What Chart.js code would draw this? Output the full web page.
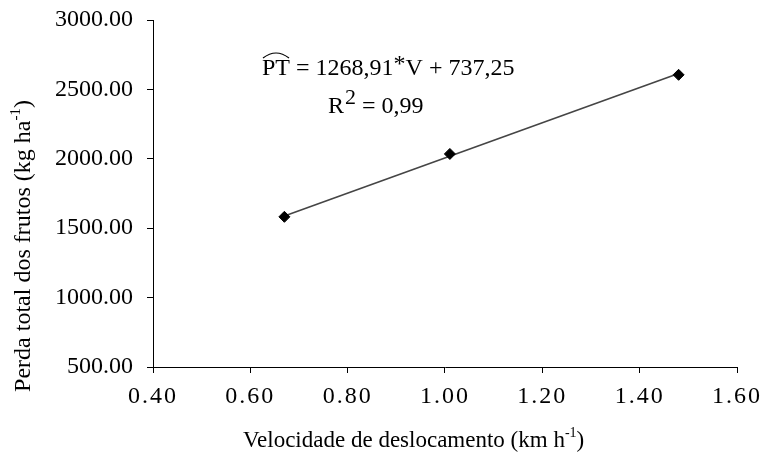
<!DOCTYPE html>
<html><head><meta charset="utf-8">
<script src="https://cdn.jsdelivr.net/npm/chart.js@4.4.1/dist/chart.umd.min.js"></script>
<style>html,body{margin:0;padding:0;background:#fff}</style>
</head><body>
<canvas id="c" width="764" height="452"></canvas>
<script>
// ---- data ----
const velocidade = [0.67, 1.01, 1.48];          // km h-1
const perdaTotal = [1582, 2035, 2605];          // kg ha-1
const xTickValues = [0.40, 0.60, 0.80, 1.00, 1.20, 1.40, 1.60];
const yTickValues = [500, 1000, 1500, 2000, 2500, 3000];
const trendSlope = 1268.91;
const trendIntercept = 737.25;
const xTitleRuns = [{t: 'Velocidade de deslocamento (km h'}, {t: '-1', sup: true}, {t: ')'}];
const yTitleRuns = [{t: 'Perda total dos frutos (kg ha'}, {t: '-1', sup: true}, {t: ')'}];

const FONT = "'Liberation Serif', 'Times New Roman', serif";

const points = velocidade.map((v, i) => ({x: v, y: perdaTotal[i]}));
const xFirst = velocidade[0], xLast = velocidade[velocidade.length - 1];
const trendLine = [xFirst, xLast].map(v => ({x: v, y: trendSlope * v + trendIntercept}));

function drawRuns(ctx, runs, x, y, size, align) {
  const supSize = Math.round(size * 0.62);
  let w = 0;
  const parts = runs.map(r => {
    ctx.font = (r.sup ? supSize : size) + 'px ' + FONT;
    const m = ctx.measureText(r.t).width;
    w += m;
    return {r, m};
  });
  let cx = align === 'center' ? x - w / 2 : x;
  ctx.textAlign = 'left';
  ctx.textBaseline = 'alphabetic';
  parts.forEach(p => {
    ctx.font = (p.r.sup ? supSize : size) + 'px ' + FONT;
    ctx.fillText(p.r.t, cx, p.r.sup ? y - size * 0.42 : y);
    cx += p.m;
  });
}

const annot = {
  id: 'annot',
  afterDraw(chart) {
    const ctx = chart.ctx;
    ctx.save();
    ctx.fillStyle = '#000';
    drawRuns(ctx, xTitleRuns, 243, 447, 23, 'left');
    ctx.save();
    ctx.translate(30, 246);
    ctx.rotate(-Math.PI / 2);
    drawRuns(ctx, yTitleRuns, 0, 0, 24, 'center');
    ctx.restore();

    const size = 24;
    ctx.font = size + 'px ' + FONT;
    ctx.textBaseline = 'alphabetic';
    ctx.textAlign = 'left';
    let x = 262, y = 75;
    const pt = 'PT';
    const ptW = ctx.measureText(pt).width;
    ctx.fillText(pt, x, y);
    ctx.beginPath();
    ctx.lineWidth = 1.2;
    ctx.strokeStyle = '#000';
    ctx.moveTo(x + 1, y - 17);
    ctx.quadraticCurveTo(x + ptW / 2, y - 27, x + ptW - 1, y - 17);
    ctx.stroke();
    x += ptW;
    const s1 = ' = 1268,91';
    ctx.fillText(s1, x, y); x += ctx.measureText(s1).width;
    ctx.fillText('*', x, y - 4); x += ctx.measureText('*').width;
    const s2 = 'V + 737,25';
    ctx.fillText(s2, x, y);

    let rx = 328, ry = 113;
    ctx.fillText('R', rx, ry); rx += ctx.measureText('R').width + 1;
    ctx.font = '22px ' + FONT;
    ctx.fillText('2', rx, ry - 9); rx += ctx.measureText('2').width;
    ctx.font = size + 'px ' + FONT;
    ctx.fillText(' = 0,99', rx, ry);
    ctx.restore();
  }
};

const spacingPlugin = {
  id: 'xspacing',
  afterLayout(chart) {
    const sc = chart.scales.x;
    if (sc && !sc._patched) {
      const orig = sc.drawLabels;
      sc.drawLabels = function (area) {
        const c = this.ctx;
        const prev = c.letterSpacing;
        c.letterSpacing = '2px';
        orig.call(this, area);
        c.letterSpacing = prev || '0px';
      };
      sc._patched = true;
    }
  }
};

function zeroPad(s) { s.paddingTop = 0; s.paddingBottom = 0; s.paddingLeft = 0; s.paddingRight = 0; }

new Chart(document.getElementById('c'), {
  type: 'scatter',
  data: {
    datasets: [
      {label: 'Tendência', data: trendLine, showLine: true, borderColor: '#454545', borderWidth: 1.6, pointRadius: 0, fill: false, order: 2},
      {label: 'Perda total', data: points, showLine: false, pointStyle: 'rectRot', pointRadius: 5.5,
       pointBackgroundColor: '#000', pointBorderColor: '#000', pointBorderWidth: 1, order: 1}
    ]
  },
  options: {
    responsive: false,
    animation: false,
    devicePixelRatio: 1,
    layout: {padding: {top: 20, right: 27, bottom: 0, left: 0}},
    plugins: {legend: {display: false}, tooltip: {enabled: false}},
    scales: {
      x: {
        type: 'linear',
        min: xTickValues[0],
        max: xTickValues[xTickValues.length - 1],
        afterBuildTicks: (s) => { s.ticks = xTickValues.map(v => ({value: v})); },
        afterFit: (s) => { s.height = 85; zeroPad(s); },
        ticks: {color: '#000', font: {family: FONT, size: 24}, padding: 9, maxRotation: 0, autoSkip: false,
                callback: (v) => Number(v).toFixed(2)},
        grid: {display: true, drawOnChartArea: false, drawTicks: true, tickLength: 6, color: '#000', lineWidth: 1},
        border: {display: true, color: '#000', width: 1}
      },
      y: {
        type: 'linear',
        min: yTickValues[0],
        max: yTickValues[yTickValues.length - 1],
        afterBuildTicks: (s) => { s.ticks = yTickValues.map(v => ({value: v})); },
        afterFit: (s) => { s.width = 153; zeroPad(s); },
        ticks: {color: '#000', font: {family: FONT, size: 24}, padding: 14, autoSkip: false,
                callback: (v) => Number(v).toFixed(2)},
        grid: {display: true, drawOnChartArea: false, drawTicks: true, tickLength: 6, color: '#000', lineWidth: 1},
        border: {display: true, color: '#000', width: 1}
      }
    }
  },
  plugins: [spacingPlugin, annot]
});
</script>
</body></html>
